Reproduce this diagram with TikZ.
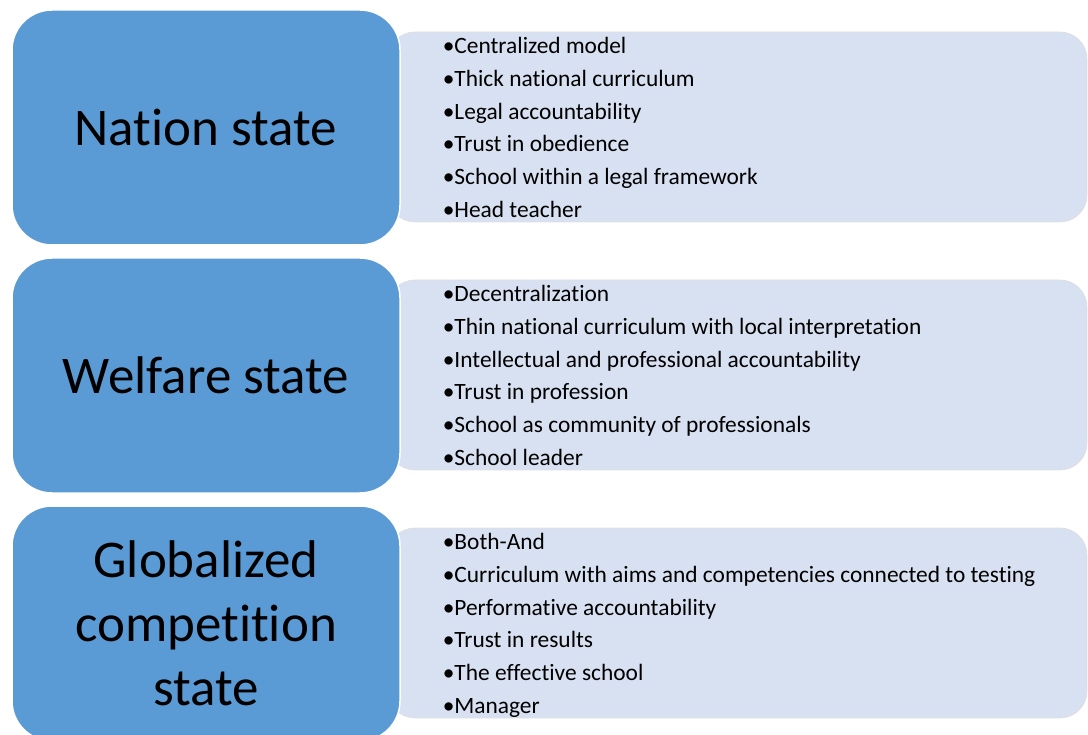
\documentclass[tikz,border=0pt]{standalone}
\usepackage{fontspec}
\setmainfont{Carlito}[Ligatures={NoCommon}]
\usetikzlibrary{positioning}
\definecolor{stateblue}{RGB}{91,155,213}
\definecolor{listblue}{RGB}{216,225,241}

\begin{document}
\begin{tikzpicture}[x=1pt,y=-1pt,node distance=248pt,on grid,
    statebox/.style={rectangle,rounded corners=40pt,fill=stateblue,draw=white,line width=1.5pt,
      minimum width=388pt,minimum height=235pt,align=center,font=\fontsize{53}{64}\selectfont},
    listbox/.style={rectangle,rounded corners=27pt,fill=listblue,draw=black!12,line width=0.8pt,
      minimum width=699pt,minimum height=190pt},
    items/.style={anchor=north west,inner sep=0pt,align=left,font=\fontsize{23.4}{32.8}\selectfont}]
  \useasboundingbox (0,0) rectangle (1088,735);
  \clip (0,0) rectangle (1088,735);
  % pale boxes first, the blue ones sit on top of them
  \node[listbox] (nation-bg) at (737.5,127) {};
  \node[listbox] (welfare-bg) [below=of nation-bg] {};
  \node[listbox] (global-bg) [below=of welfare-bg] {};
  \node[statebox] (nation) at (206,127.5) {Nation state};
  \node[statebox] (welfare) [below=of nation] {Welfare state};
  \node[statebox] (global) [below=of welfare] {Globalized\\competition\\state};
  % bullet lists
  \node[items] (nation-items) at ([xshift=55pt,yshift=-5.5pt]nation-bg.north west)
    {\textbullet Centralized model\\
     \textbullet Thick national curriculum\\
     \textbullet Legal accountability\\
     \textbullet Trust in obedience\\
     \textbullet School within a legal framework\\
     \textbullet Head teacher};
  \node[items] (welfare-items) at ([xshift=55pt,yshift=-5.5pt]welfare-bg.north west)
    {\textbullet Decentralization\\
     \textbullet Thin national curriculum with local interpretation\\
     \textbullet Intellectual and professional accountability\\
     \textbullet Trust in profession\\
     \textbullet School as community of professionals\\
     \textbullet School leader};
  \node[items] (global-items) at ([xshift=55pt,yshift=-5.5pt]global-bg.north west)
    {\textbullet Both-And\\
     \textbullet Curriculum with aims and competencies connected to testing\\
     \textbullet Performative accountability\\
     \textbullet Trust in results\\
     \textbullet The effective school\\
     \textbullet Manager};
\end{tikzpicture}
\end{document}
